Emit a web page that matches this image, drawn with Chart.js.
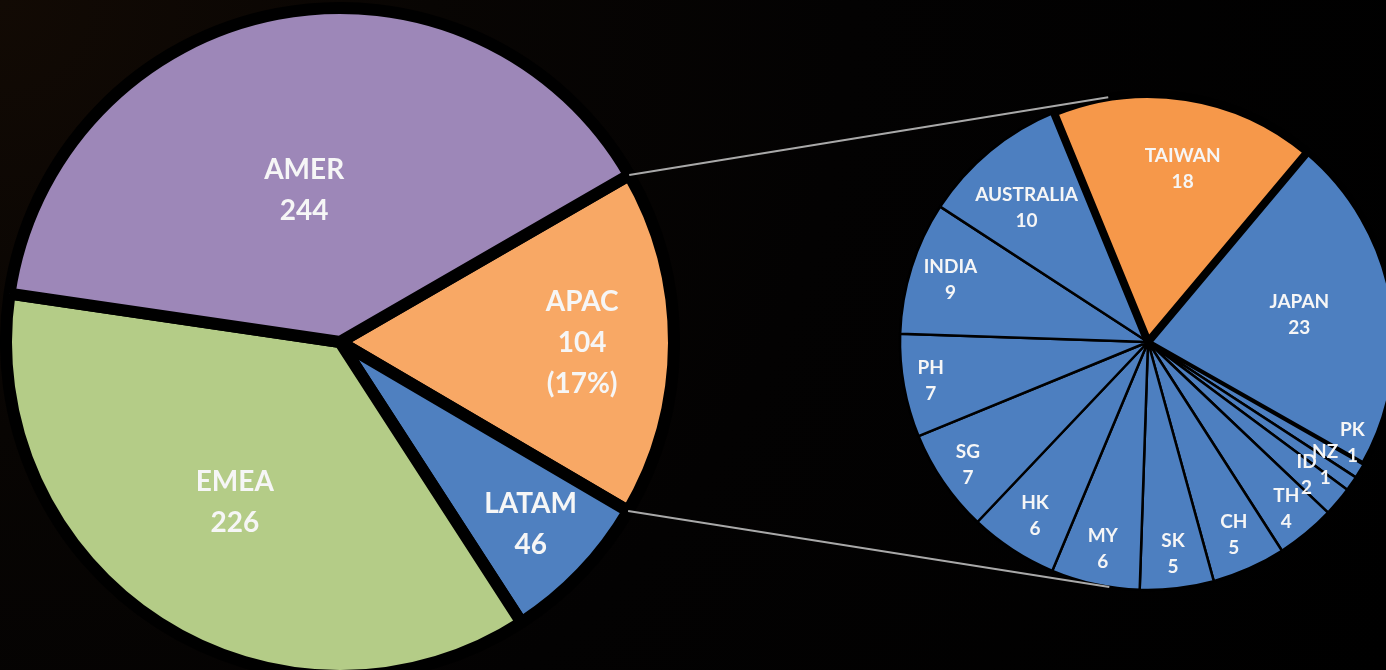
<!DOCTYPE html>
<html>
<head>
<meta charset="utf-8">
<script src="https://cdn.jsdelivr.net/npm/chart.js@4.4.1/dist/chart.umd.min.js"></script>
<style>
  html, body { margin: 0; padding: 0; width: 1386px; height: 670px; overflow: hidden; }
  body { background: radial-gradient(circle at 0% 0%, #120a04 0%, #080503 28%, #030202 55%, #000000 100%); position: relative; }
  canvas { position: absolute; left: 0; top: 0; }
</style>
</head>
<body>
<canvas id="mainPie" width="1386" height="670"></canvas>
<canvas id="apacPie" width="1386" height="670"></canvas>
<script>
// ---- data ----
const regionLabels = ['APAC', 'LATAM', 'EMEA', 'AMER'];
const regionValues = [104, 46, 226, 244];

const apacLabels = ['JAPAN', 'PK', 'NZ', 'ID', 'TH', 'CH', 'SK', 'MY', 'HK', 'SG', 'PH', 'INDIA', 'AUSTRALIA', 'TAIWAN'];
const apacValues = [23, 1, 1, 2, 4, 5, 5, 6, 6, 7, 7, 9, 10, 18];

// ---- styles ----
const regionColors = ['#f8a865', '#4f80c0', '#b4cc87', '#9d87b8'];
const regionLabelRadius = [0.725, 0.79, 0.575, 0.465];
const regionLabelTurn = [0, 0, 0.5, -2.5];
const apacColors = apacLabels.map(l => l === 'TAIWAN' ? '#f6984a' : '#4d7fc0');
const apacBorders = apacLabels.map(l => l === 'TAIWAN' ? 8 : (l === 'JAPAN' ? 6 : 2.5));
const apacLabelRadius = [0.62, 0.92, 0.87, 0.835, 0.875, 0.85, 0.86, 0.855, 0.835, 0.88, 0.89, 0.835, 0.73, 0.71];
const apacLabelTurn = [0, -5, 0, 0, 0, 0, 0, 0, 0, 0, 0, 0, -2.5, 2.5];

const FONT = 'Lato, "Open Sans", sans-serif';
const TEXT = '#f6f6f6';

function labelPlugin(id, fracs, turns, fontPx, lineH, extra) {
  return {
    id,
    afterDatasetsDraw(chart) {
      const ctx = chart.ctx;
      const meta = chart.getDatasetMeta(0);
      const ds = chart.data.datasets[0];
      const total = ds.data.reduce((a, b) => a + b, 0);
      ctx.save();
      ctx.fillStyle = TEXT;
      ctx.font = `bold ${fontPx}px ${FONT}`;
      ctx.textAlign = 'center';
      ctx.textBaseline = 'middle';
      meta.data.forEach((arc, i) => {
        const p = arc.getProps(['x', 'y', 'startAngle', 'endAngle', 'outerRadius'], true);
        const mid = (p.startAngle + p.endAngle) / 2 + (turns ? turns[i] * Math.PI / 180 : 0);
        const r = p.outerRadius * fracs[i];
        const cx = p.x + Math.cos(mid) * r;
        const cy = p.y + Math.sin(mid) * r;
        const lines = [chart.data.labels[i], String(ds.data[i])].concat(extra ? extra(i, ds.data[i], total) : []);
        const top = cy - (lines.length - 1) * lineH / 2;
        lines.forEach((t, k) => ctx.fillText(t, cx, top + k * lineH));
      });
      ctx.restore();
    }
  };
}

const mainChart = new Chart(document.getElementById('mainPie'), {
  type: 'pie',
  data: {
    labels: regionLabels,
    datasets: [{
      data: regionValues,
      backgroundColor: regionColors,
      borderColor: '#000000',
      borderWidth: 12,
      radius: 334,
      clip: false
    }]
  },
  options: {
    responsive: false,
    animation: false,
    events: [],
    rotation: 60,
    radius: 334,
    layout: { padding: { left: 0, right: 706, top: 14, bottom: 0 } },
    plugins: { legend: { display: false }, tooltip: { enabled: false } }
  },
  plugins: [labelPlugin('mainLabels', regionLabelRadius, regionLabelTurn, 28, 41,
    (i, v, total) => regionLabels[i] === 'APAC' ? ['(' + Math.round(v / total * 100) + '%)'] : [])]
});

const connectorPlugin = {
  id: 'connectors',
  afterDatasetsDraw(chart) {
    const src = mainChart.getDatasetMeta(0).data[regionLabels.indexOf('APAC')]
      .getProps(['x', 'y', 'startAngle', 'endAngle', 'outerRadius'], true);
    const dst = chart.getDatasetMeta(0).data[0].getProps(['x', 'y', 'outerRadius'], true);
    const ctx = chart.ctx;
    ctx.save();
    ctx.strokeStyle = '#a9a9a9';
    ctx.lineWidth = 2;
    [src.startAngle, src.endAngle].forEach(a => {
      const P = { x: src.x + Math.cos(a) * src.outerRadius, y: src.y + Math.sin(a) * src.outerRadius };
      const dx = P.x - dst.x, dy = P.y - dst.y;
      const d = Math.hypot(dx, dy);
      const base = Math.atan2(dy, dx);
      const alpha = Math.acos(dst.outerRadius / d);
      const t1 = { x: dst.x + Math.cos(base + alpha) * dst.outerRadius, y: dst.y + Math.sin(base + alpha) * dst.outerRadius };
      const t2 = { x: dst.x + Math.cos(base - alpha) * dst.outerRadius, y: dst.y + Math.sin(base - alpha) * dst.outerRadius };
      const T = (P.y < src.y) ? (t1.y < t2.y ? t1 : t2) : (t1.y > t2.y ? t1 : t2);
      ctx.beginPath();
      ctx.moveTo(P.x, P.y);
      ctx.lineTo(T.x, T.y);
      ctx.stroke();
    });
    ctx.restore();
  }
};

const apacChart = new Chart(document.getElementById('apacPie'), {
  type: 'pie',
  data: {
    labels: apacLabels,
    datasets: [{
      data: apacValues,
      backgroundColor: apacColors,
      borderColor: '#000000',
      borderWidth: apacBorders,
      radius: 248,
      clip: false
    }]
  },
  options: {
    responsive: false,
    animation: false,
    events: [],
    rotation: 40,
    radius: 248,
    layout: { padding: { left: 910, right: 0, top: 14, bottom: 0 } },
    plugins: { legend: { display: false }, tooltip: { enabled: false } }
  },
  plugins: [connectorPlugin, labelPlugin('apacLabels', apacLabelRadius, apacLabelTurn, 19, 26, null)]
});
</script>
</body>
</html>
